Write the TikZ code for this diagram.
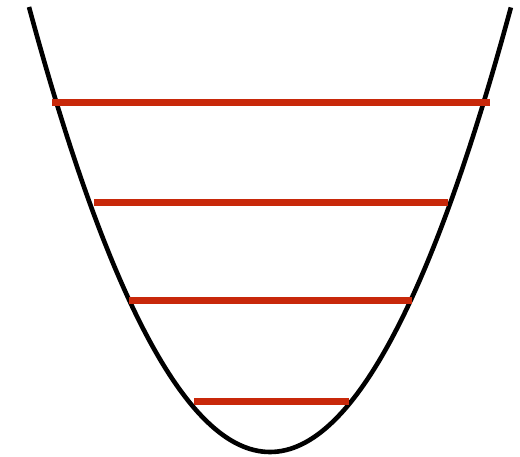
\documentclass[tikz,border=0pt]{standalone}
\definecolor{levelred}{RGB}{200,40,10}
\tikzset{
  well/.style={draw=black, line width=4.6pt},
  level/.style={draw=levelred, line width=7pt}
}
\begin{document}
\begin{tikzpicture}[x=1pt,y=-1pt]
\useasboundingbox (0,0) rectangle (520,457);
% potential well
\draw[well] plot[domain=-1:1, samples=121, smooth] ({270+241*\x}, {452-445*\x*\x});
% energy levels
\draw[level] (52,103) -- (490,103);
\draw[level] (94,202.5) -- (448,202.5);
\draw[level] (129,301) -- (412,301);
\draw[level] (194,401) -- (349,401);
\end{tikzpicture}
\end{document}
